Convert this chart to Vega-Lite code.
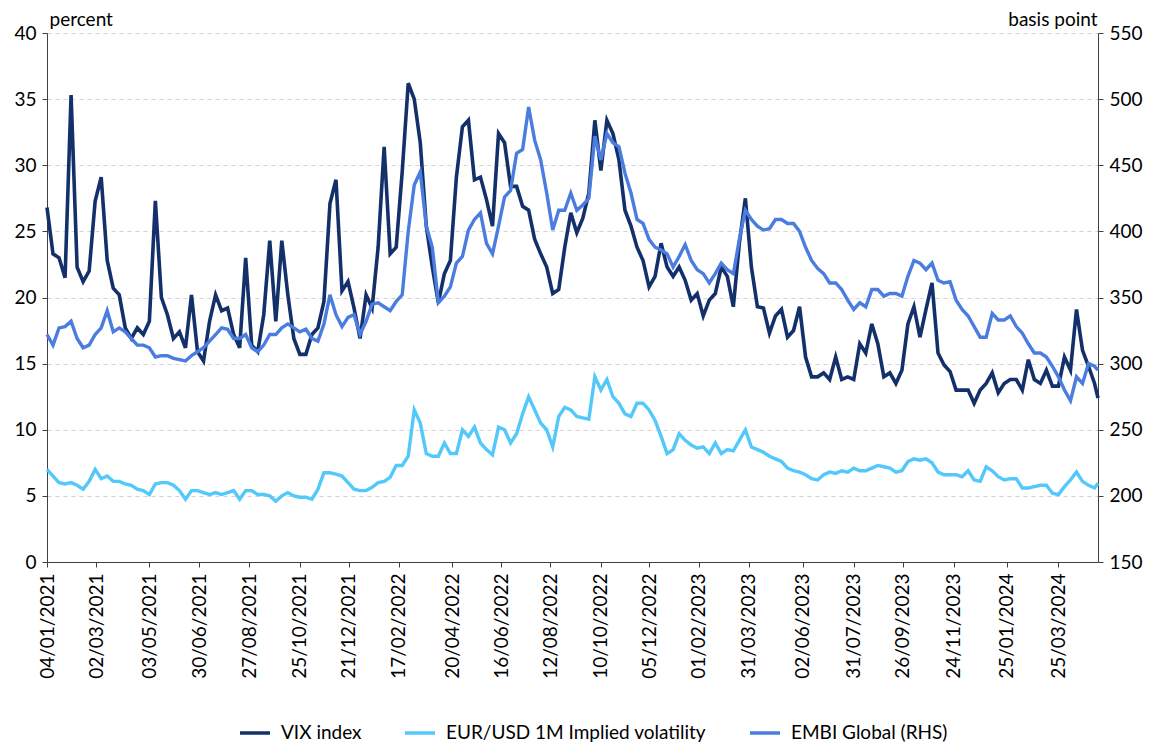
{
"$schema": "https://vega.github.io/schema/vega-lite/v6.json",
"width": 1051, "height": 529,
"autosize": {"type": "none"},
"padding": {"left": 47, "top": 33, "right": 53, "bottom": 185},
"background": "white",
"config": {"view": {"stroke": null}, "font": "Lato"},
"data": {"values": [
{"date":"2021-01-04","vix":26.8,"eur":7.0,"embi":322},
{"date":"2021-01-11","vix":23.3,"eur":6.5,"embi":314},
{"date":"2021-01-18","vix":23.0,"eur":6.0,"embi":327},
{"date":"2021-01-25","vix":21.5,"eur":5.9,"embi":328},
{"date":"2021-02-01","vix":35.3,"eur":6.0,"embi":332},
{"date":"2021-02-08","vix":22.3,"eur":5.8,"embi":319},
{"date":"2021-02-15","vix":21.2,"eur":5.5,"embi":312},
{"date":"2021-02-22","vix":22.0,"eur":6.1,"embi":314},
{"date":"2021-03-01","vix":27.3,"eur":7.0,"embi":322},
{"date":"2021-03-08","vix":29.1,"eur":6.3,"embi":327},
{"date":"2021-03-15","vix":22.8,"eur":6.5,"embi":340},
{"date":"2021-03-22","vix":20.7,"eur":6.1,"embi":324},
{"date":"2021-03-29","vix":20.2,"eur":6.1,"embi":327},
{"date":"2021-04-05","vix":17.7,"eur":5.9,"embi":324},
{"date":"2021-04-12","vix":16.9,"eur":5.8,"embi":319},
{"date":"2021-04-19","vix":17.7,"eur":5.5,"embi":314},
{"date":"2021-04-26","vix":17.2,"eur":5.4,"embi":314},
{"date":"2021-05-03","vix":18.2,"eur":5.1,"embi":312},
{"date":"2021-05-10","vix":27.3,"eur":5.9,"embi":305},
{"date":"2021-05-17","vix":20.0,"eur":6.0,"embi":306},
{"date":"2021-05-24","vix":18.7,"eur":6.0,"embi":306},
{"date":"2021-05-31","vix":16.9,"eur":5.8,"embi":304},
{"date":"2021-06-07","vix":17.4,"eur":5.4,"embi":303},
{"date":"2021-06-14","vix":16.2,"eur":4.75,"embi":302},
{"date":"2021-06-21","vix":20.2,"eur":5.4,"embi":306},
{"date":"2021-06-28","vix":15.9,"eur":5.4,"embi":309},
{"date":"2021-07-05","vix":15.2,"eur":5.25,"embi":312},
{"date":"2021-07-12","vix":18.2,"eur":5.1,"embi":317},
{"date":"2021-07-19","vix":20.2,"eur":5.25,"embi":322},
{"date":"2021-07-26","vix":19.0,"eur":5.1,"embi":327},
{"date":"2021-08-02","vix":19.2,"eur":5.25,"embi":326},
{"date":"2021-08-09","vix":17.2,"eur":5.4,"embi":319},
{"date":"2021-08-16","vix":16.2,"eur":4.75,"embi":319},
{"date":"2021-08-23","vix":23.0,"eur":5.4,"embi":322},
{"date":"2021-08-30","vix":16.4,"eur":5.4,"embi":312},
{"date":"2021-09-06","vix":15.9,"eur":5.1,"embi":309},
{"date":"2021-09-13","vix":18.7,"eur":5.1,"embi":314},
{"date":"2021-09-20","vix":24.3,"eur":5.0,"embi":322},
{"date":"2021-09-27","vix":18.2,"eur":4.6,"embi":322},
{"date":"2021-10-04","vix":24.3,"eur":5.0,"embi":327},
{"date":"2021-10-11","vix":20.2,"eur":5.25,"embi":330},
{"date":"2021-10-18","vix":16.9,"eur":5.0,"embi":327},
{"date":"2021-10-25","vix":15.7,"eur":4.9,"embi":324},
{"date":"2021-11-01","vix":15.7,"eur":4.9,"embi":326},
{"date":"2021-11-08","vix":17.2,"eur":4.75,"embi":319},
{"date":"2021-11-15","vix":17.7,"eur":5.5,"embi":317},
{"date":"2021-11-22","vix":19.7,"eur":6.75,"embi":330},
{"date":"2021-11-29","vix":27.1,"eur":6.75,"embi":352},
{"date":"2021-12-06","vix":28.9,"eur":6.65,"embi":337},
{"date":"2021-12-13","vix":20.5,"eur":6.5,"embi":328},
{"date":"2021-12-20","vix":21.2,"eur":6.0,"embi":335},
{"date":"2021-12-27","vix":19.2,"eur":5.5,"embi":337},
{"date":"2022-01-03","vix":16.9,"eur":5.4,"embi":322},
{"date":"2022-01-10","vix":20.2,"eur":5.4,"embi":332},
{"date":"2022-01-17","vix":19.2,"eur":5.65,"embi":345},
{"date":"2022-01-24","vix":23.8,"eur":6.0,"embi":346},
{"date":"2022-01-31","vix":31.4,"eur":6.1,"embi":343},
{"date":"2022-02-07","vix":23.3,"eur":6.4,"embi":340},
{"date":"2022-02-14","vix":23.8,"eur":7.3,"embi":347},
{"date":"2022-02-21","vix":29.5,"eur":7.3,"embi":352},
{"date":"2022-02-28","vix":36.2,"eur":8.0,"embi":400},
{"date":"2022-03-07","vix":35.0,"eur":11.5,"embi":435},
{"date":"2022-03-14","vix":31.7,"eur":10.5,"embi":445},
{"date":"2022-03-21","vix":25.4,"eur":8.2,"embi":404},
{"date":"2022-03-28","vix":22.3,"eur":8.0,"embi":388},
{"date":"2022-04-04","vix":19.6,"eur":8.0,"embi":346},
{"date":"2022-04-11","vix":21.8,"eur":9.0,"embi":351},
{"date":"2022-04-18","vix":22.8,"eur":8.2,"embi":358},
{"date":"2022-04-25","vix":29.1,"eur":8.2,"embi":376},
{"date":"2022-05-02","vix":32.9,"eur":10.0,"embi":381},
{"date":"2022-05-09","vix":33.4,"eur":9.5,"embi":401},
{"date":"2022-05-16","vix":28.9,"eur":10.2,"embi":409},
{"date":"2022-05-23","vix":29.1,"eur":9.0,"embi":414},
{"date":"2022-05-30","vix":27.4,"eur":8.5,"embi":391},
{"date":"2022-06-06","vix":25.4,"eur":8.1,"embi":383},
{"date":"2022-06-13","vix":32.4,"eur":10.2,"embi":404},
{"date":"2022-06-20","vix":31.7,"eur":10.0,"embi":426},
{"date":"2022-06-27","vix":28.4,"eur":9.0,"embi":431},
{"date":"2022-07-04","vix":28.4,"eur":9.7,"embi":459},
{"date":"2022-07-11","vix":26.9,"eur":11.2,"embi":462},
{"date":"2022-07-18","vix":26.6,"eur":12.5,"embi":494},
{"date":"2022-07-25","vix":24.4,"eur":11.5,"embi":469},
{"date":"2022-08-01","vix":23.3,"eur":10.5,"embi":454},
{"date":"2022-08-08","vix":22.3,"eur":10.0,"embi":429},
{"date":"2022-08-15","vix":20.3,"eur":8.7,"embi":401},
{"date":"2022-08-22","vix":20.6,"eur":11.0,"embi":416},
{"date":"2022-08-29","vix":23.8,"eur":11.7,"embi":416},
{"date":"2022-09-05","vix":26.4,"eur":11.5,"embi":429},
{"date":"2022-09-12","vix":24.9,"eur":11.0,"embi":416},
{"date":"2022-09-19","vix":26.0,"eur":10.9,"embi":420},
{"date":"2022-09-26","vix":27.9,"eur":10.8,"embi":425},
{"date":"2022-10-03","vix":33.4,"eur":14.0,"embi":472},
{"date":"2022-10-10","vix":29.6,"eur":13.0,"embi":454},
{"date":"2022-10-17","vix":33.4,"eur":13.8,"embi":474},
{"date":"2022-10-24","vix":32.4,"eur":12.5,"embi":467},
{"date":"2022-10-31","vix":30.4,"eur":12.0,"embi":464},
{"date":"2022-11-07","vix":26.6,"eur":11.2,"embi":444},
{"date":"2022-11-14","vix":25.4,"eur":11.0,"embi":429},
{"date":"2022-11-21","vix":23.8,"eur":12.0,"embi":409},
{"date":"2022-11-28","vix":22.8,"eur":12.0,"embi":406},
{"date":"2022-12-05","vix":20.8,"eur":11.5,"embi":394},
{"date":"2022-12-12","vix":21.6,"eur":10.7,"embi":388},
{"date":"2022-12-19","vix":24.1,"eur":9.5,"embi":386},
{"date":"2022-12-26","vix":22.3,"eur":8.2,"embi":383},
{"date":"2023-01-02","vix":21.6,"eur":8.5,"embi":373},
{"date":"2023-01-09","vix":22.3,"eur":9.7,"embi":381},
{"date":"2023-01-16","vix":21.3,"eur":9.2,"embi":390},
{"date":"2023-01-23","vix":19.8,"eur":8.85,"embi":378},
{"date":"2023-01-30","vix":20.3,"eur":8.6,"embi":371},
{"date":"2023-02-06","vix":18.6,"eur":8.7,"embi":368},
{"date":"2023-02-13","vix":19.8,"eur":8.2,"embi":361},
{"date":"2023-02-20","vix":20.3,"eur":9.0,"embi":368},
{"date":"2023-02-27","vix":22.3,"eur":8.2,"embi":376},
{"date":"2023-03-06","vix":21.6,"eur":8.5,"embi":371},
{"date":"2023-03-13","vix":19.3,"eur":8.4,"embi":368},
{"date":"2023-03-20","vix":24.1,"eur":9.2,"embi":394},
{"date":"2023-03-27","vix":27.5,"eur":10.0,"embi":416},
{"date":"2023-04-03","vix":22.3,"eur":8.7,"embi":409},
{"date":"2023-04-10","vix":19.3,"eur":8.5,"embi":404},
{"date":"2023-04-17","vix":19.2,"eur":8.3,"embi":401},
{"date":"2023-04-24","vix":17.3,"eur":8.0,"embi":402},
{"date":"2023-05-01","vix":18.6,"eur":7.8,"embi":409},
{"date":"2023-05-08","vix":19.1,"eur":7.6,"embi":409},
{"date":"2023-05-15","vix":17.0,"eur":7.1,"embi":406},
{"date":"2023-05-22","vix":17.5,"eur":6.9,"embi":406},
{"date":"2023-05-29","vix":19.3,"eur":6.8,"embi":400},
{"date":"2023-06-05","vix":15.5,"eur":6.6,"embi":388},
{"date":"2023-06-12","vix":14.0,"eur":6.3,"embi":378},
{"date":"2023-06-19","vix":14.0,"eur":6.2,"embi":372},
{"date":"2023-06-26","vix":14.3,"eur":6.6,"embi":368},
{"date":"2023-07-03","vix":13.8,"eur":6.8,"embi":361},
{"date":"2023-07-10","vix":15.5,"eur":6.7,"embi":361},
{"date":"2023-07-17","vix":13.8,"eur":6.9,"embi":356},
{"date":"2023-07-24","vix":14.0,"eur":6.8,"embi":348},
{"date":"2023-07-31","vix":13.8,"eur":7.1,"embi":341},
{"date":"2023-08-07","vix":16.5,"eur":6.9,"embi":346},
{"date":"2023-08-14","vix":15.8,"eur":6.9,"embi":343},
{"date":"2023-08-21","vix":18.0,"eur":7.1,"embi":356},
{"date":"2023-08-28","vix":16.5,"eur":7.3,"embi":356},
{"date":"2023-09-04","vix":14.0,"eur":7.2,"embi":351},
{"date":"2023-09-11","vix":14.3,"eur":7.1,"embi":353},
{"date":"2023-09-18","vix":13.5,"eur":6.8,"embi":353},
{"date":"2023-09-25","vix":14.5,"eur":6.9,"embi":351},
{"date":"2023-10-02","vix":18.0,"eur":7.6,"embi":366},
{"date":"2023-10-09","vix":19.3,"eur":7.8,"embi":378},
{"date":"2023-10-16","vix":17.0,"eur":7.7,"embi":376},
{"date":"2023-10-23","vix":19.1,"eur":7.8,"embi":371},
{"date":"2023-10-30","vix":21.1,"eur":7.5,"embi":376},
{"date":"2023-11-06","vix":15.8,"eur":6.8,"embi":363},
{"date":"2023-11-13","vix":14.9,"eur":6.6,"embi":361},
{"date":"2023-11-20","vix":14.4,"eur":6.6,"embi":362},
{"date":"2023-11-27","vix":13.0,"eur":6.6,"embi":348},
{"date":"2023-12-04","vix":13.0,"eur":6.45,"embi":341},
{"date":"2023-12-11","vix":13.0,"eur":6.9,"embi":336},
{"date":"2023-12-18","vix":12.0,"eur":6.2,"embi":328},
{"date":"2023-12-25","vix":13.0,"eur":6.1,"embi":320},
{"date":"2024-01-01","vix":13.5,"eur":7.2,"embi":320},
{"date":"2024-01-08","vix":14.3,"eur":6.9,"embi":338},
{"date":"2024-01-15","vix":12.8,"eur":6.45,"embi":333},
{"date":"2024-01-22","vix":13.5,"eur":6.2,"embi":333},
{"date":"2024-01-29","vix":13.8,"eur":6.3,"embi":336},
{"date":"2024-02-05","vix":13.8,"eur":6.3,"embi":328},
{"date":"2024-02-12","vix":13.0,"eur":5.6,"embi":323},
{"date":"2024-02-19","vix":15.3,"eur":5.6,"embi":315},
{"date":"2024-02-26","vix":13.8,"eur":5.7,"embi":308},
{"date":"2024-03-04","vix":13.5,"eur":5.8,"embi":308},
{"date":"2024-03-11","vix":14.5,"eur":5.8,"embi":305},
{"date":"2024-03-18","vix":13.3,"eur":5.2,"embi":298},
{"date":"2024-03-25","vix":13.3,"eur":5.1,"embi":290},
{"date":"2024-04-01","vix":15.5,"eur":5.7,"embi":280},
{"date":"2024-04-08","vix":14.5,"eur":6.2,"embi":272},
{"date":"2024-04-15","vix":19.1,"eur":6.8,"embi":290},
{"date":"2024-04-22","vix":16.0,"eur":6.1,"embi":285},
{"date":"2024-04-29","vix":14.8,"eur":5.8,"embi":300},
{"date":"2024-05-06","vix":13.5,"eur":5.6,"embi":298},
{"date":"2024-05-10","vix":12.4,"eur":5.95,"embi":295}
]},
"encoding": {
  "x": {"field": "date", "type": "temporal",
    "scale": {"type": "utc", "domain": [{"year":2021,"month":1,"date":4,"utc":true},{"year":2024,"month":5,"date":10,"utc":true}]},
    "axis": {"title": null, "format": "%d/%m/%Y", "labelAngle": -90, "labelFontSize": 19, "labelFont": "Lato", "labelColor": "#000000",
      "labelPadding": 6, "labelOverlap": false, "labelFlush": false, "tickSize": 5, "tickColor": "#404040", "domainColor": "#404040", "grid": false,
      "values": [
        {"year":2021,"month":1,"date":4,"utc":true},
        {"year":2021,"month":3,"date":2,"utc":true},
        {"year":2021,"month":5,"date":3,"utc":true},
        {"year":2021,"month":6,"date":30,"utc":true},
        {"year":2021,"month":8,"date":27,"utc":true},
        {"year":2021,"month":10,"date":25,"utc":true},
        {"year":2021,"month":12,"date":21,"utc":true},
        {"year":2022,"month":2,"date":17,"utc":true},
        {"year":2022,"month":4,"date":20,"utc":true},
        {"year":2022,"month":6,"date":16,"utc":true},
        {"year":2022,"month":8,"date":12,"utc":true},
        {"year":2022,"month":10,"date":10,"utc":true},
        {"year":2022,"month":12,"date":5,"utc":true},
        {"year":2023,"month":2,"date":1,"utc":true},
        {"year":2023,"month":3,"date":31,"utc":true},
        {"year":2023,"month":6,"date":2,"utc":true},
        {"year":2023,"month":7,"date":31,"utc":true},
        {"year":2023,"month":9,"date":26,"utc":true},
        {"year":2023,"month":11,"date":24,"utc":true},
        {"year":2024,"month":1,"date":25,"utc":true},
        {"year":2024,"month":3,"date":25,"utc":true}
      ]}}
},
"layer": [
  {"layer": [
    {"mark": {"type": "line", "strokeWidth": 3.6, "strokeJoin": "miter"},
     "encoding": {
       "y": {"field": "vix", "type": "quantitative", "scale": {"domain": [0, 40], "nice": false},
         "axis": {"values": [0,5,10,15,20,25,30,35,40], "grid": true, "gridDash": [4,4], "gridColor": "#d4d4d4",
           "domainColor": "#404040", "tickColor": "#404040", "tickSize": 5, "labelFontSize": 19, "labelFont": "Lato", "labelColor": "#000000", "labelPadding": 6,
           "title": "percent", "titleAngle": 0, "titleAlign": "left", "titleBaseline": "alphabetic", "titleX": 2, "titleY": -8,
           "titleFontSize": 19, "titleFontWeight": "normal", "titleFont": "Lato", "titleColor": "#000000"}},
       "color": {"datum": "VIX index", "type": "nominal",
         "scale": {"domain": ["VIX index", "EUR/USD 1M Implied volatility", "EMBI Global (RHS)"], "range": ["#13306b", "#52c8fb", "#4a7ddf"]},
         "legend": {"orient": "none", "legendX": 191, "legendY": 683, "direction": "horizontal", "title": null,
           "symbolType": "stroke", "symbolSize": 900, "symbolStrokeWidth": 3.5, "labelFontSize": 19, "labelFont": "Lato", "labelLimit": 500,
           "labelColor": "#000000", "columnPadding": 36, "labelOffset": 9}}}},
    {"mark": {"type": "line", "strokeWidth": 3.4, "strokeJoin": "miter"},
     "encoding": {
       "y": {"field": "eur", "type": "quantitative"},
       "color": {"datum": "EUR/USD 1M Implied volatility", "type": "nominal"}}}
  ]},
  {"mark": {"type": "line", "strokeWidth": 3.4, "strokeJoin": "miter"},
   "encoding": {
     "y": {"field": "embi", "type": "quantitative", "scale": {"domain": [150, 550], "nice": false},
       "axis": {"orient": "right", "values": [150,200,250,300,350,400,450,500,550], "grid": false,
         "domainColor": "#404040", "tickColor": "#404040", "tickSize": 5, "labelFontSize": 19, "labelFont": "Lato", "labelColor": "#000000", "labelPadding": 6,
         "title": "basis point", "titleAngle": 0, "titleAlign": "right", "titleBaseline": "alphabetic", "titleX": -1, "titleY": -8,
         "titleFontSize": 19, "titleFontWeight": "normal", "titleFont": "Lato", "titleColor": "#000000"}},
     "color": {"datum": "EMBI Global (RHS)", "type": "nominal"}}}
],
"resolve": {"scale": {"y": "independent"}}
}
